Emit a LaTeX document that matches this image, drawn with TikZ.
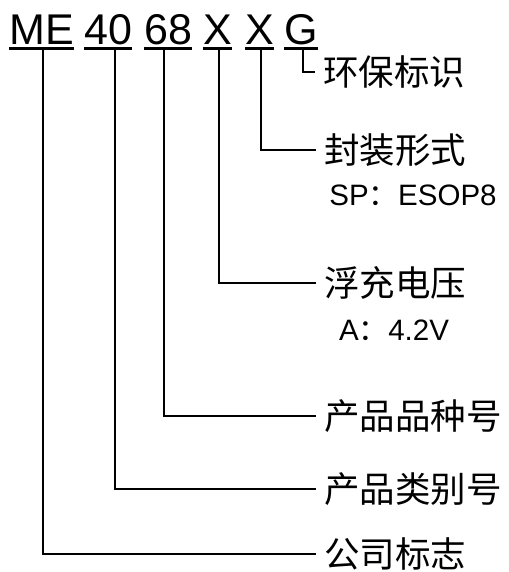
\documentclass[tikz,border=0pt]{standalone}
\usepackage{fontspec}
\setmainfont{Liberation Sans}
\newfontfamily\cjk{Noto Sans CJK SC}
\begin{document}
\begin{tikzpicture}[x=1pt,y=-1pt,
  seg/.style={inner sep=0pt,anchor=base west,font=\fontsize{43}{43}\selectfont},
  uline/.style={line width=3pt},
  conn/.style={line width=2pt},
  lab/.style={anchor=west,inner xsep=8pt,inner ysep=0pt,font=\cjk\fontsize{35.5}{36}\selectfont},
  sub/.style={inner sep=0pt,font=\fontsize{29.5}{30}\selectfont}]
\useasboundingbox (0,0) rectangle (508,572);
% code segments
\node[seg] (s1) at (9,44.5) {ME};
\node[seg] (s2) at (84,44.5) {40};
\node[seg] (s3) at (144,44.5) {68};
\node[seg] (s4) at (203,44.5) {X};
\node[seg] (s5) at (245,44.5) {X};
\node[seg] (s6) at (284,44.5) {G};
\foreach \s in {s1,s2,s3,s4,s5,s6}
  \draw[uline] ([yshift=-4.5pt]\s.base west) -- ([yshift=-4.5pt]\s.base east);
% connector start points
\coordinate (c1) at (43,49);
\coordinate (c2) at (115,49);
\coordinate (c3) at (164,49);
\coordinate (c4) at (219,49);
\coordinate (c5) at (261,49);
\coordinate (c6) at (303,49);
% labels
\node[lab] (l6) at (315,72) {环保标识};
\node[lab] (l5) at (316,150) {封装形式};
\node[lab] (l4) at (316,283) {浮充电压};
\node[lab] (l3) at (316,416) {产品品种号};
\node[lab] (l2) at (316,489) {产品类别号};
\node[lab] (l1) at (316,554) {公司标志};
\node[sub] (d5) at (413,195) {SP{\cjk ：}ESOP8};
\node[sub] (d4) at (394,330) {A{\cjk ：}4.2V};
% connectors
\draw[conn] (c1) |- (l1.west);
\draw[conn] (c2) |- (l2.west);
\draw[conn] (c3) |- (l3.west);
\draw[conn] (c4) |- (l4.west);
\draw[conn] (c5) |- (l5.west);
\draw[conn] (c6) |- (l6.west);
\end{tikzpicture}
\end{document}
